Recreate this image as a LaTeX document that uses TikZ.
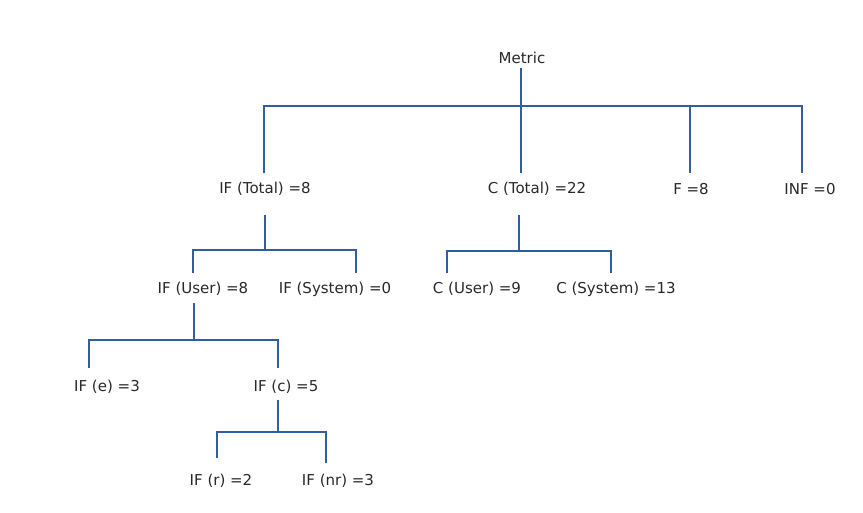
\documentclass[tikz,border=0pt]{standalone}
\usepackage{fontspec}
\setmainfont{DejaVu Sans}
\definecolor{linkblue}{RGB}{47,95,160}
\definecolor{labelgray}{RGB}{40,40,40}
\begin{document}
\begin{tikzpicture}[x=1pt,y=-1pt,
  lbl/.style={inner sep=0pt,font=\fontsize{15}{17}\selectfont,text=labelgray},
  conn/.style={draw=linkblue,line width=2.6pt}]
\useasboundingbox (0,0) rectangle (863,512);
% labels
\node[lbl] (metric) at (522,58) {Metric};
\node[lbl] (ift) at (265,189) {IF (Total) =8};
\node[lbl] (ct) at (537,189) {C (Total) =22};
\node[lbl] (f) at (691,189) {F =8};
\node[lbl] (inf) at (810,189) {INF =0};
\node[lbl] (ifu) at (203,289) {IF (User) =8};
\node[lbl] (ifs) at (335,289) {IF (System) =0};
\node[lbl] (cu) at (477,289) {C (User) =9};
\node[lbl] (cs) at (616,289) {C (System) =13};
\node[lbl] (ife) at (107,387) {IF (e) =3};
\node[lbl] (ifc) at (286,387) {IF (c) =5};
\node[lbl] (ifr) at (221,481) {IF (r) =2};
\node[lbl] (ifnr) at (338,481) {IF (nr) =3};
% junction coordinates
\coordinate (m0) at (521,68);
\coordinate (mb) at (521,106);
\coordinate (b1) at (264,106);
\coordinate (b4) at (802,106);
\coordinate (b3) at (690,106);
\coordinate (d1) at (264,173);
\coordinate (d2) at (521,173);
\coordinate (d3) at (690,173);
\coordinate (d4) at (802,173);
\coordinate (it0) at (265,215);
\coordinate (itb) at (265,250);
\coordinate (itl) at (193,250);
\coordinate (itr) at (356,250);
\coordinate (dul) at (193,273);
\coordinate (dsl) at (356,273);
\coordinate (ct0) at (519,215);
\coordinate (ctb) at (519,251);
\coordinate (ctl) at (447,251);
\coordinate (ctr) at (611,251);
\coordinate (dcu) at (447,273);
\coordinate (dcs) at (611,273);
\coordinate (iu0) at (194,303);
\coordinate (iub) at (194,340);
\coordinate (iul) at (89,340);
\coordinate (iur) at (278,340);
\coordinate (die) at (89,368);
\coordinate (dic) at (278,368);
\coordinate (ic0) at (278,400);
\coordinate (icb) at (278,432);
\coordinate (icl) at (217,432);
\coordinate (icr) at (326,432);
\coordinate (dir) at (217,458);
\coordinate (dinr) at (326,463);
% connectors
\draw[conn] (m0) -- (mb);
\draw[conn] (d1) -- (b1) -- (b4) -- (d4);
\draw[conn] (mb) -- (d2);
\draw[conn] (b3) -- (d3);
\draw[conn] (it0) -- (itb);
\draw[conn] (dul) -- (itl) -- (itr) -- (dsl);
\draw[conn] (ct0) -- (ctb);
\draw[conn] (dcu) -- (ctl) -- (ctr) -- (dcs);
\draw[conn] (iu0) -- (iub);
\draw[conn] (die) -- (iul) -- (iur) -- (dic);
\draw[conn] (ic0) -- (icb);
\draw[conn] (dir) -- (icl) -- (icr) -- (dinr);
\end{tikzpicture}
\end{document}
